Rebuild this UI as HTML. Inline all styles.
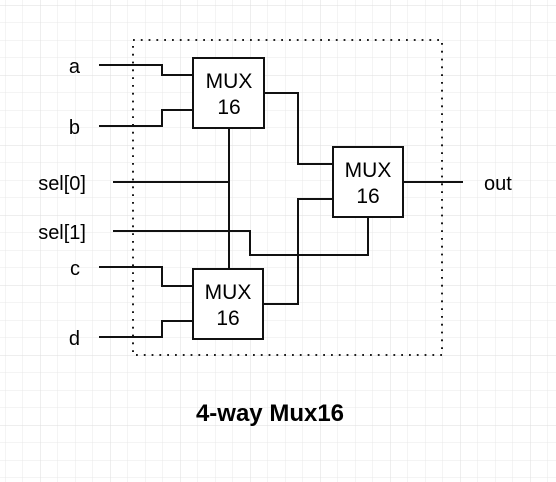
<!DOCTYPE html>
<html><head><style>
html,body{margin:0;padding:0;background:#fff;}
svg{display:block;}
text{font-family:"Liberation Sans",Helvetica,Arial,sans-serif;fill:#000;}
</style></head><body>
<svg width="556" height="482" viewBox="0 0 556 482" xmlns="http://www.w3.org/2000/svg">
<defs>
<pattern id="g" x="5" y="5" width="17.5" height="17.5" patternUnits="userSpaceOnUse">
<path d="M0 0 H17.5 M0 0 V17.5" stroke="#e8e8e8" stroke-width="1" fill="none"/>
</pattern>
<pattern id="G" x="40" y="5" width="70" height="70" patternUnits="userSpaceOnUse">
<path d="M0 0 H70 M0 0 V70" stroke="#dedede" stroke-width="1" fill="none"/>
</pattern>
</defs>
<rect width="556" height="482" fill="#fff"/>
<rect width="556" height="482" fill="url(#g)"/>
<rect width="556" height="482" fill="url(#G)"/>
<rect x="133" y="40" width="309" height="315" fill="none" stroke="#000" stroke-width="1.8" stroke-dasharray="1.8 6"/>
<g fill="none" stroke="#111" stroke-width="2">
<path d="M99 65 H162 V75 H193"/>
<path d="M99 126 H162 V110 H193"/>
<path d="M99 267 H162 V286 H193"/>
<path d="M99 337 H162 V321 H193"/>
<path d="M264 93 H298 V164 H333"/>
<path d="M263 304 H298 V199 H333"/>
<path d="M113 182 H229"/>
<path d="M229 128 V269"/>
<path d="M113 231 H250 V255 H368 V217"/>
<path d="M403 182 H463"/>
<rect x="193" y="58" width="71" height="70" fill="#fff"/>
<rect x="333" y="147" width="70" height="70" fill="#fff"/>
<rect x="193" y="269" width="70" height="70" fill="#fff"/>
</g>
<g font-size="21" text-anchor="middle">
<text x="229" y="88">MUX</text><text x="229" y="114">16</text>
<text x="368" y="177">MUX</text><text x="368" y="203">16</text>
<text x="228" y="299">MUX</text><text x="228" y="325">16</text>
</g>
<g font-size="20" text-anchor="end">
<text x="80" y="73">a</text>
<text x="80" y="134">b</text>
<text x="86" y="190">sel[0]</text>
<text x="86" y="239">sel[1]</text>
<text x="80" y="275">c</text>
<text x="80" y="345">d</text>
</g>
<text x="484" y="190" font-size="20">out</text>
<text x="270" y="421" font-size="24" font-weight="bold" text-anchor="middle">4-way Mux16</text>
</svg>
</body></html>
